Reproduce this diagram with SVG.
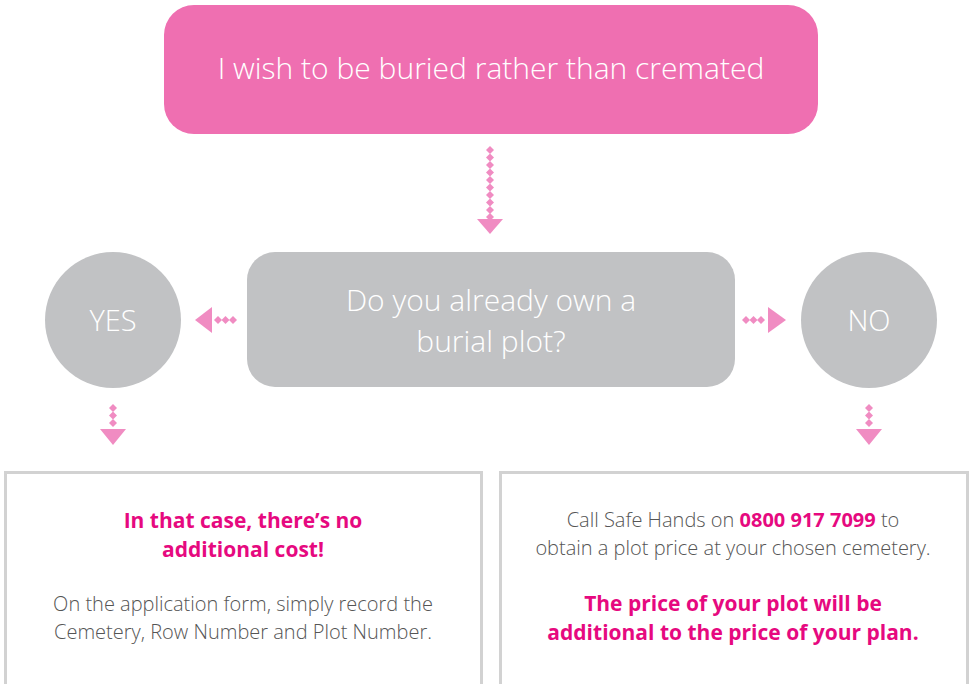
<svg xmlns="http://www.w3.org/2000/svg" width="973" height="684" viewBox="0 0 973 684">
<defs>
<style>
.lt{font-family:"Open Sans","Lato","Liberation Sans",sans-serif;font-weight:300;}
.bd{font-family:"Open Sans","Lato","Liberation Sans",sans-serif;font-weight:700;fill:#e6097f;}
.big{font-size:30px;fill:#fff;text-anchor:middle;}
.body{font-size:20px;fill:#555;text-anchor:middle;}
.hl{font-size:21px;text-anchor:middle;}
.arr{fill:#f08cc2;}
.box{fill:#fff;stroke:#d2d2d2;stroke-width:3;}
</style>
<g id="dia"><path class="arr" d="M0,-4 L4,0 L0,4 L-4,0 Z"/></g>
</defs>
<rect width="973" height="684" fill="#fff"/>
<g id="connectors">
<g id="c1">
<use href="#dia" x="490" y="150"/><use href="#dia" x="490" y="157.5"/><use href="#dia" x="490" y="165"/><use href="#dia" x="490" y="172.5"/><use href="#dia" x="490" y="180"/><use href="#dia" x="490" y="187.5"/><use href="#dia" x="490" y="195"/><use href="#dia" x="490" y="202.5"/><use href="#dia" x="490" y="210"/><use href="#dia" x="490" y="217"/>
<path class="arr" d="M477,219 L503,219 L490,234 Z"/>
</g>
<g id="c2">
<use href="#dia" x="233" y="320"/><use href="#dia" x="225.5" y="320"/><use href="#dia" x="218" y="320"/>
<path class="arr" d="M212,307 L212,333 L195,320 Z"/>
</g>
<g id="c3">
<use href="#dia" x="746" y="320"/><use href="#dia" x="753.5" y="320"/><use href="#dia" x="761" y="320"/>
<path class="arr" d="M768,307 L768,333 L786,320 Z"/>
</g>
<g id="c4">
<use href="#dia" x="113" y="408"/><use href="#dia" x="113" y="415.5"/><use href="#dia" x="113" y="423"/>
<path class="arr" d="M100,429 L126,429 L113,445 Z"/>
</g>
<g id="c5">
<use href="#dia" x="869" y="408"/><use href="#dia" x="869" y="415.5"/><use href="#dia" x="869" y="423"/>
<path class="arr" d="M856,429 L882,429 L869,445 Z"/>
</g>
</g>
<g id="start">
<rect x="164" y="5" width="654" height="129" rx="30" fill="#ef6fb1"/>
<text class="lt big" x="491" y="79">I wish to be buried rather than cremated</text>
</g>
<g id="question">
<rect x="247" y="252" width="488" height="135" rx="28" fill="#c1c2c4"/>
<text class="lt big" x="491" y="311">Do you already own a</text>
<text class="lt big" x="491" y="352">burial plot?</text>
</g>
<g id="yes">
<circle cx="113" cy="320" r="68" fill="#c1c2c4"/>
<text class="lt big" x="113" y="331" style="font-size:29px">YES</text>
</g>
<g id="no">
<circle cx="869" cy="320" r="68" fill="#c1c2c4"/>
<text class="lt big" x="869" y="331" style="font-size:29px">NO</text>
</g>
<g id="yesbox">
<rect class="box" x="5.5" y="472.5" width="476" height="230"/>
<text class="bd hl" x="243" y="528">In that case, there’s no</text>
<text class="bd hl" x="243" y="557">additional cost!</text>
<text class="lt body" x="243" y="611">On the application form, simply record the</text>
<text class="lt body" x="243" y="639">Cemetery, Row Number and Plot Number.</text>
</g>
<g id="nobox">
<rect class="box" x="500.5" y="472.5" width="467" height="230"/>
<text class="lt body" x="733" y="527">Call Safe Hands on <tspan class="bd">0800 917 7099</tspan> to</text>
<text class="lt body" x="733" y="555">obtain a plot price at your chosen cemetery.</text>
<text class="bd hl" x="733" y="611">The price of your plot will be</text>
<text class="bd hl" x="733" y="640">additional to the price of your plan.</text>
</g>
</svg>
